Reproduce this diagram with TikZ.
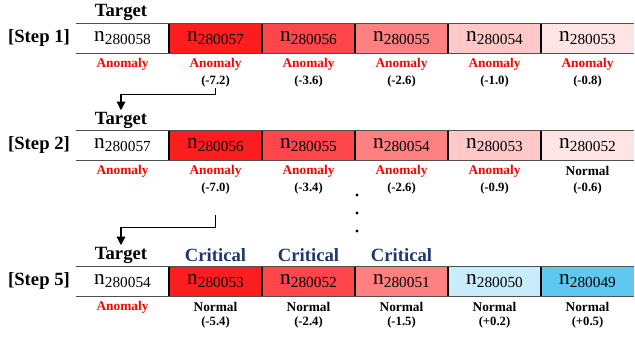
\documentclass[tikz,border=0pt]{standalone}
\usepackage{fontspec}
\setmainfont{Liberation Serif}
\usetikzlibrary{positioning,arrows.meta,calc}

\definecolor{heat1}{RGB}{255,30,30}
\definecolor{heat2}{RGB}{255,70,75}
\definecolor{heat3}{RGB}{255,128,128}
\definecolor{heat4}{RGB}{255,200,200}
\definecolor{heat5}{RGB}{255,228,230}
\definecolor{cool1}{RGB}{200,236,250}
\definecolor{cool2}{RGB}{95,200,240}
\definecolor{navy}{RGB}{31,56,112}
\definecolor{rulegray}{RGB}{80,80,80}

\newcommand{\nid}[1]{{\fontsize{16}{16}\selectfont$\mathrm{n}$}%
  \raisebox{-2.2pt}{\fontsize{11.5}{11.5}\selectfont$\mathrm{#1}$}}

\begin{document}
\begin{tikzpicture}[
  x=0.75pt, y=-0.75pt,
  >={Triangle[width=6.5pt,length=6.5pt]},
  cell/.style={minimum width=69.75pt, minimum height=21.75pt, inner sep=0pt},
  status/.style={font=\bfseries\fontsize{10}{10}\selectfont, inner sep=1pt},
  anomaly/.style={status, text=red},
  score/.style={status, font=\bfseries\fontsize{9.5}{9.5}\selectfont},
  header/.style={font=\bfseries\fontsize{14}{14}\selectfont, inner sep=1pt},
  steplabel/.style={header},
  rule/.style={draw=rulegray, line width=1.1pt},
  divider/.style={draw=black, line width=1.5pt},
  flow/.style={->, line width=0.9pt}
]
  \useasboundingbox (0,0) rectangle (635,337);

  % step 1
  \node[steplabel] at (39,38.5) {[Step 1]};
  \node[header] (ta) at (121,12) {Target};
  \foreach \i/\id/\col in {1/280058/white, 2/280057/heat1, 3/280056/heat2,
                           4/280055/heat3, 5/280054/heat4, 6/280053/heat5}
    \node[cell, fill=\col] (a\i) at ({29.5+93*\i},38.5) {\nid{\id}};
  \draw[rule] (a1.north west) -- (a6.north east);
  \draw[rule] (a1.south west) -- (a6.south east);
  \foreach \i in {2,...,6}
    \draw[divider] (a\i.north west) -- (a\i.south west);
  \foreach \i in {1,...,6}
    \node[anomaly] (sa\i) at ({29.5+93*\i},64) {Anomaly};
  \foreach \i/\v in {2/-7.2, 3/-3.6, 4/-2.6, 5/-1.0, 6/-0.8}
    \node[score] (va\i) at ({29.5+93*\i},81) {(\v)};

  % step 2
  \node[steplabel] at (39,145.5) {[Step 2]};
  \node[header] (tb) at (121,120) {Target};
  \foreach \i/\id/\col in {1/280057/white, 2/280056/heat1, 3/280055/heat2,
                           4/280054/heat3, 5/280053/heat4, 6/280052/heat5}
    \node[cell, fill=\col] (b\i) at ({29.5+93*\i},145.5) {\nid{\id}};
  \draw[rule] (b1.north west) -- (b6.north east);
  \draw[rule] (b1.south west) -- (b6.south east);
  \foreach \i in {2,...,6}
    \draw[divider] (b\i.north west) -- (b\i.south west);
  \foreach \i in {1,...,5}
    \node[anomaly] (sb\i) at ({29.5+93*\i},171) {Anomaly};
  \node[status] (sb6) at (587.5,171) {Normal};
  \foreach \i/\v in {2/-7.0, 3/-3.4, 4/-2.6, 5/-0.9, 6/-0.6}
    \node[score] (vb\i) at ({29.5+93*\i},188) {(\v)};

  \foreach \y in {195,213,231}
    \fill (357,\y) circle (1.3pt);

  % step 5
  \node[steplabel] at (39,281.5) {[Step 5]};
  \node[header] (tc) at (121,255) {Target};
  \foreach \i in {2,3,4}
    \node[header, text=navy] (cr\i) at ({29.5+93*\i},255) {Critical};
  \foreach \i/\id/\col in {1/280054/white, 2/280053/heat1, 3/280052/heat2,
                           4/280051/heat3, 5/280050/cool1, 6/280049/cool2}
    \node[cell, fill=\col] (c\i) at ({29.5+93*\i},281.5) {\nid{\id}};
  \draw[rule] (c1.north west) -- (c6.north east);
  \draw[rule] (c1.south west) -- (c6.south east);
  \foreach \i in {2,...,6}
    \draw[divider] (c\i.north west) -- (c\i.south west);
  \node[anomaly] (sc1) at (122.5,307) {Anomaly};
  \foreach \i/\v in {2/-5.4, 3/-2.4, 4/-1.5, 5/+0.2, 6/+0.5} {
    \node[status] (sc\i) at ({29.5+93*\i},307) {Normal};
    \node[score] (vc\i) at ({29.5+93*\i},322) {(\v)};
  }

  % moving the target
  \draw[flow] (va2.south) -- ++(0,6) -| (tb.north);
  \coordinate (skip) at ($(vb2.south)+(0,20)$);
  \draw[flow] (skip) -- ++(0,12) -| (tc.north);
\end{tikzpicture}
\end{document}
